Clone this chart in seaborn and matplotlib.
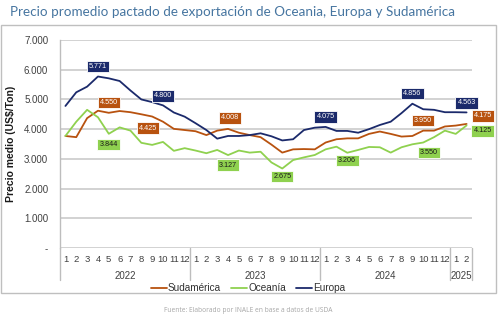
import numpy as np
import pandas as pd
import matplotlib
matplotlib.use("Agg")
import matplotlib.pyplot as plt
import matplotlib.transforms as mtransforms
from matplotlib.patches import Rectangle
import seaborn as sns

# ---------------- data ----------------
years = ["2022"] * 12 + ["2023"] * 12 + ["2024"] * 12 + ["2025"] * 2
months = [str(m) for m in range(1, 13)] * 3 + ["1", "2"]

europa = [4780, 5240, 5430, 5771, 5710, 5620, 5300, 5000, 4910, 4800, 4560, 4420,
          4200, 3970, 3680, 3770, 3770, 3800, 3860, 3760, 3620, 3660, 3970, 4050,
          4075, 3940, 3940, 3880, 4000, 4140, 4250, 4540, 4856, 4670, 4650, 4570,
          4570, 4563]
sudamerica = [3770, 3730, 4370, 4620, 4550, 4610, 4570, 4500, 4425, 4250, 4010, 3970,
              3930, 3800, 3950, 4008, 3880, 3800, 3730, 3480, 3210, 3320, 3330, 3320,
              3550, 3660, 3690, 3690, 3840, 3920, 3840, 3750, 3770, 3950, 3950, 4090,
              4120, 4175]
oceania = [3770, 4250, 4650, 4400, 3844, 4060, 3950, 3540, 3470, 3570, 3270, 3360,
           3280, 3190, 3300, 3127, 3280, 3210, 3240, 2880, 2675, 2960, 3050, 3130,
           3320, 3410, 3206, 3300, 3400, 3390, 3210, 3390, 3490, 3550, 3730, 3950,
           3840, 4125]

series_names = ["Sudamérica", "Oceanía", "Europa"]
yticks = [0, 1000, 2000, 3000, 4000, 5000, 6000, 7000]
ytick_labels = ["-", "1.000", "2.000", "3.000", "4.000", "5.000", "6.000", "7.000"]

# labelled points: index -> (dx, dy) offsets in pixels
labels_europa = {3: (0, 10), 9: (0, 9.5), 24: (0, 10), 32: (0, 10), 37: (0, 9.5)}
labels_sud = {4: (0, 10), 8: (-4, -11.5), 15: (2, 11), 33: (0, 10), 37: (16.5, 8)}
labels_oce = {4: (0, -11), 15: (0, -10), 20: (0, -8), 26: (0, -8), 33: (6, -10), 37: (16, -5.5)}

colors = {"Sudamérica": "#b8520f", "Oceanía": "#8fd14f", "Europa": "#1b2a6b"}
box_colors = {"Sudamérica": "#b8520f", "Oceanía": "#8fd14f", "Europa": "#1b2a6b"}
text_colors = {"Sudamérica": "white", "Oceanía": "#1a1a1a", "Europa": "white"}

# ---------------- build frame ----------------
n = len(months)
df = pd.DataFrame({
    "idx": list(range(n)) * 3,
    "valor": sudamerica + oceania + europa,
    "serie": ["Sudamérica"] * n + ["Oceanía"] * n + ["Europa"] * n,
})

sns.set_theme(style="white")
plt.rcParams["font.family"] = ["Liberation Sans", "DejaVu Sans"]

W, H = 500, 323
fig = plt.figure(figsize=(W / 100, H / 100), dpi=100)
ax = fig.add_axes([60 / W, 1 - 248 / H, (472 - 60) / W, (248 - 40) / H])

sns.lineplot(data=df, x="idx", y="valor", hue="serie", hue_order=series_names,
             palette=colors, linewidth=1.3, ax=ax, legend=True, zorder=3)

ax.set_xlim(-0.5, n - 0.5)
ax.set_ylim(0, 7000)
ax.set_yticks(yticks)
ax.set_yticklabels(ytick_labels, fontsize=7, color="#404040")
ax.set_xticks(range(n))
ax.set_xticklabels(months, fontsize=6.8, color="#404040")
ax.tick_params(axis="both", length=0)
ax.tick_params(axis="y", pad=8.5)
ax.tick_params(axis="x", pad=5)
ax.set_xlabel("")
ax.set_ylabel("Precio medio (US$/Ton)", fontsize=7.5, fontweight="bold",
              color="#1a1a1a", labelpad=6)
ax.yaxis.set_label_coords(-0.108, 0.5)

for y in yticks:
    ax.axhline(y, color="#c6c6c6", lw=1.1, zorder=1)
for s in ["top", "right", "bottom"]:
    ax.spines[s].set_visible(False)
ax.spines["left"].set_color("#bdbdbd")
ax.spines["left"].set_linewidth(1.0)

# year group separators and labels
trans = mtransforms.blended_transform_factory(ax.transData, ax.transAxes)
bottom_ext = -(280 - 248) / 208
bounds = [-0.5]
start = 0
year_order = []
for i in range(1, n + 1):
    if i == n or years[i] != years[i - 1]:
        year_order.append((years[i - 1], start, i - 1))
        bounds.append(i - 0.5)
        start = i
for b in bounds:
    ax.plot([b, b], [0, bottom_ext], transform=trans, color="#bdbdbd",
            lw=1.0, clip_on=False, zorder=2)
for yr, s, e in year_order:
    ax.text((s + e) / 2, -(276 - 248) / 208, yr, transform=trans, ha="center",
            va="center", fontsize=7, color="#404040")

# data labels
def fmt(v):
    return f"{v:,}".replace(",", ".")

for name, vals, lab in [("Europa", europa, labels_europa),
                        ("Sudamérica", sudamerica, labels_sud),
                        ("Oceanía", oceania, labels_oce)]:
    for i, (dx, dy) in lab.items():
        ax.annotate(fmt(vals[i]), xy=(i, vals[i]), xytext=(dx, dy),
                    textcoords="offset pixels", ha="center", va="center",
                    fontsize=5.2, color=text_colors[name], zorder=5,
                    annotation_clip=False,
                    bbox=dict(boxstyle="square,pad=0.3", fc=box_colors[name],
                              ec="white", lw=0.6))

# legend
leg = ax.get_legend()
handles, labs = ax.get_legend_handles_labels()
leg.remove()
fig.legend(handles, labs, loc="center", bbox_to_anchor=(248 / W, 1 - 288 / H),
           ncol=3, frameon=False, fontsize=7.2, handlelength=1.6,
           handletextpad=0.1, columnspacing=1.0, labelcolor="#303030")

# title, border, footer
fig.text(10 / W, 1 - 12 / H, "Precio promedio pactado de exportación de Oceania, Europa y Sudamérica",
         fontsize=9.75, color="#4675a0", ha="left", va="center", family=["Lato", "DejaVu Sans"])
fig.patches.append(Rectangle((1 / W, 1 - 293 / H), 495 / W, (293 - 25) / H,
                             transform=fig.transFigure, fill=False,
                             ec="#bfbfbf", lw=1.0))
fig.text(248 / W, 1 - 310 / H, "Fuente: Elaborado por INALE en base a datos de USDA",
         fontsize=4.8, color="#a6a6a6", ha="center", va="center",
         family=["Open Sans", "DejaVu Sans"])

fig.savefig("out.png", dpi=100)
